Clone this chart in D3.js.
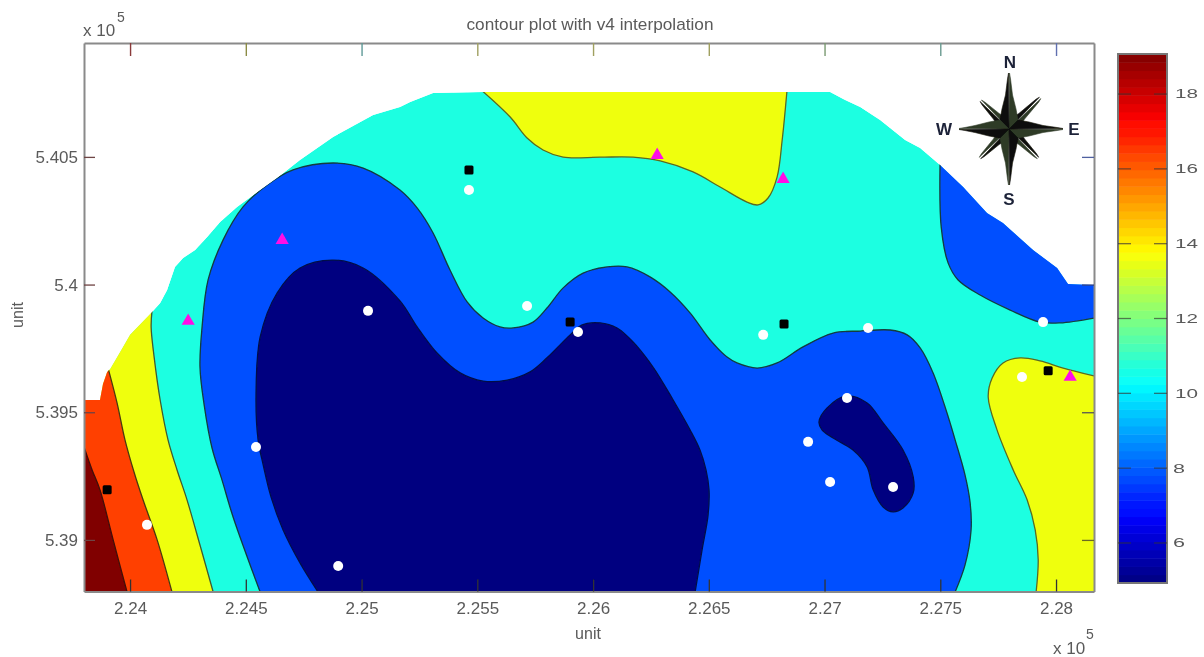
<!DOCTYPE html>
<html><head><meta charset="utf-8">
<script src="https://cdn.jsdelivr.net/npm/d3@7"></script>
<style>html,body{margin:0;padding:0;background:#fff}svg{display:block}text{font-family:"Liberation Sans",Arial,sans-serif}</style>
</head><body><svg id="c" width="1204" height="657"></svg>
<script>
// ---- data (metres) ----
const xTicks=[224000,224500,225000,225500,226000,226500,227000,227500,228000];
const xTickLabels=["2.24","2.245","2.25","2.255","2.26","2.265","2.27","2.275","2.28"];
const yTicks=[539000,539500,540000,540500];
const yTickLabels=["5.39","5.395","5.4","5.405"];
const topTickColors=["#8a3a3a","#8c8c45","#5f9a98","#a0a060","#a0a060","#a0a060","#7a9a70","#6a9a90","#6070b0"];
const rightTickColors=["#6a6a20","#555555","#334488","#5060a0"];
const barTicks=[6,8,10,12,14,16,18];
const barRange=[4.93,19.07];
const bandValues={navy:4.93,blue:7.8,cyan:10.65,yellow:13.55,orange:16.42,maroon:19.07};
const site=[[223801,538798],[223801,539548],[223870,539548],[223883,539611],[223901,539658],[223914,539669],[223957,539736],[224000,539803],[224095,539893],[224130,539928],[224160,539979],[224194,540069],[224229,540104],[224281,540135],[224333,540186],[224389,540245],[224462,540304],[224549,540362],[224635,540417],[224734,540488],[224877,540578],[225050,540664],[225166,540695],[225210,540715],[225309,540750],[225525,540754],[226838,540754],[227024,540754],[227089,540723],[227154,540695],[227240,540644],[227348,540566],[227413,540535],[227499,540468],[227599,540382],[227702,540280],[227771,540241],[227901,540135],[228005,540065],[228052,540002],[228164,539998],[228164,538798]];
const leftYellow=[[224095,539900],[224091,539834],[224104,539716],[224130,539548],[224164,539392],[224203,539274],[224246,539157],[224302,538980],[224359,538796]];
const leftYellowClose=[[223801,538796],[223801,539900]];
const leftOrange=[[223905,539673],[223944,539536],[223978,539392],[224017,539266],[224056,539157],[224117,539000],[224181,538796]];
const leftOrangeClose=[[223801,538796],[223801,539673]];
const leftMaroon=[[223801,539364],[223836,539274],[223870,539196],[223927,539000],[223987,538796]];
const leftMaroonClose=[[223801,538796]];
const bigBlue=[[224562,538796],[224445,539090],[224397,539235],[224354,539360],[224320,539529],[224302,539677],[224311,539834],[224337,540018],[224402,540175],[224488,540304],[224592,540390],[224704,540449],[224877,540476],[225007,540456],[225166,540370],[225240,540300],[225309,540202],[225382,540057],[225456,539932],[225525,539869],[225598,539834],[225655,539830],[225741,539853],[225801,539908],[225871,539987],[225957,540045],[226061,540069],[226147,540069],[226246,540030],[226333,539971],[226419,539889],[226506,539783],[226579,539716],[226622,539693],[226709,539673],[226795,539693],[226907,539756],[227037,539810],[227154,539818],[227283,539822],[227357,539803],[227413,539752],[227469,539654],[227529,539497],[227564,539392],[227607,539254],[227629,539145],[227633,539039],[227607,538902],[227564,538796]];
const bigNavy=[[224812,538796],[224734,538910],[224661,539039],[224609,539168],[224575,539294],[224553,539392],[224544,539560],[224562,539795],[224635,539967],[224734,540065],[224877,540096],[225007,540065],[225166,539936],[225240,539834],[225326,539732],[225426,539654],[225525,539622],[225629,539626],[225728,539658],[225801,539713],[225901,539803],[225953,539842],[226030,539850],[226104,539830],[226173,539775],[226259,539677],[226346,539548],[226419,539431],[226462,539352],[226488,539274],[226501,539196],[226497,539098],[226471,538961],[226441,538796]];
const smallNavy=[[227097,539564],[227184,539536],[227253,539458],[227339,539352],[227383,539247],[227383,539184],[227339,539125],[227296,539110],[227253,539129],[227210,539196],[227184,539286],[227123,539352],[227037,539399],[226989,539431],[226976,539462],[227011,539517]];
const topYellow=[[225512,540766],[225642,540656],[225715,540574],[225784,540527],[225871,540499],[226030,540499],[226173,540499],[226290,540484],[226432,540441],[226549,540382],[226665,540323],[226713,540312],[226756,540339],[226795,540421],[226817,540566],[226838,540762]];
const rightBlue=[[227499,540476],[227504,540225],[227534,540084],[227577,540018],[227672,539959],[227802,539900],[227931,539853],[228018,539850],[228164,539869]];
const rightBlueClose=[[228164,540476]];
const rightYellow=[[228164,539642],[228031,539673],[227931,539701],[227845,539713],[227771,539693],[227724,539634],[227707,539560],[227745,539431],[227815,539274],[227875,539157],[227910,539039],[227923,538922],[227914,538796]];
const rightYellowClose=[[228164,538796]];
const whitePoints=[[225028,539897],[225464,540370],[225715,539916],[225935,539814],[226735,539803],[227188,539830],[227097,539556],[226929,539384],[227024,539227],[227296,539207],[227853,539638],[227944,539853],[224544,539364],[224073,539059],[224899,538898]];
const blackPoints=[[225464,540449],[225901,539853],[226825,539846],[227966,539662],[223901,539196]];
const magentaPoints=[[224251,539861],[224657,540178],[226277,540511],[226821,540417],[228061,539642]];

// ---- scales ----
const W={l:84,r:1094,t:43,b:591.5};
const x=d3.scaleLinear().domain([223801,228164]).range([W.l,W.r]);
const y=d3.scaleLinear().domain([538798,540946]).range([W.b,W.t]);
const cb=d3.scaleLinear().domain(barRange).range([583,54]);
function jet(v){
  const t=(v-barRange[0])/(barRange[1]-barRange[0]);
  const c=u=>Math.round(255*Math.max(0,Math.min(1,u)));
  const r=Math.min(4*t-1.5,-4*t+4.5),g=Math.min(4*t-0.5,-4*t+3.5),b=Math.min(4*t+0.5,-4*t+2.5);
  return `rgb(${c(r)},${c(g)},${c(b)})`;
}
const svg=d3.select("#c");
const defs=svg.append("defs");
defs.append("filter").attr("id","soft").attr("filterUnits","userSpaceOnUse").attr("x",0).attr("y",0).attr("width",1204).attr("height",657)
  .append("feGaussianBlur").attr("stdDeviation",0.7);
const line=d3.line().x(d=>x(d[0])).y(d=>y(d[1]));
defs.append("clipPath").attr("id","siteClip").append("path").attr("d",line(site)+"Z");
const root=svg.append("g").attr("filter","url(#soft)");

// ---- contour bands ----
const smooth=d3.line().x(d=>x(d[0])).y(d=>y(d[1])).curve(d3.curveCatmullRom.alpha(0.5));
const smoothClosed=d3.line().x(d=>x(d[0])).y(d=>y(d[1])).curve(d3.curveCatmullRomClosed.alpha(0.5));
const bands=root.append("g").attr("clip-path","url(#siteClip)");
bands.append("path").attr("d",line(site)+"Z").attr("fill",jet(bandValues.cyan));
const contourColor="#123c3c";
function band(pts,extra,val,lc){
  const d=smooth(pts)+(extra||[]).map(p=>`L${x(p[0])},${y(p[1])}`).join("")+"Z";
  bands.append("path").attr("d",d).attr("fill",jet(val));
  bands.append("path").attr("d",smooth(pts)).attr("fill","none").attr("stroke",lc||contourColor).attr("stroke-width",1.3);
}
band(bigBlue,[],bandValues.blue);
band(bigNavy,[],bandValues.navy,"#06104a");
bands.append("path").attr("d",smoothClosed(smallNavy)).attr("fill",jet(bandValues.navy)).attr("stroke","#06104a").attr("stroke-width",1.3);
band(rightBlue,rightBlueClose,bandValues.blue);
band(topYellow,[],bandValues.yellow,"#5a6a20");
band(rightYellow,rightYellowClose,bandValues.yellow,"#5a6a20");
band(leftYellow,leftYellowClose,bandValues.yellow,"#3f5a30");
band(leftOrange,leftOrangeClose,bandValues.orange,"#4a3a10");
band(leftMaroon,leftMaroonClose,bandValues.maroon,"#401008");

// ---- samples ----
root.append("g").selectAll("rect").data(blackPoints).join("rect")
  .attr("x",d=>x(d[0])-4.5).attr("y",d=>y(d[1])-4.5).attr("width",9).attr("height",9).attr("rx",1.5).attr("fill","#000");
root.append("g").selectAll("circle").data(whitePoints).join("circle")
  .attr("cx",d=>x(d[0])).attr("cy",d=>y(d[1])).attr("r",5).attr("fill","#fff");
root.append("g").selectAll("path").data(magentaPoints).join("path")
  .attr("d",d3.symbol(d3.symbolTriangle,75))
  .attr("transform",d=>`translate(${x(d[0])},${y(d[1])+1})`).attr("fill","#ff0fe6");

// ---- axes ----
const textFill="#5a5a5a";
const fs=17;
const xb=root.append("g").attr("transform",`translate(0,${W.b})`)
  .call(d3.axisBottom(x).tickValues(xTicks).tickSize(-12).tickSizeOuter(0).tickFormat((d,i)=>xTickLabels[i]));
const yl=root.append("g").attr("transform",`translate(${W.l},0)`)
  .call(d3.axisLeft(y).tickValues(yTicks).tickSize(-11).tickSizeOuter(0).tickFormat((d,i)=>yTickLabels[i]));
const xt=root.append("g").attr("transform",`translate(0,${W.t})`)
  .call(d3.axisTop(x).tickValues(xTicks).tickSize(-13).tickSizeOuter(0).tickFormat(""));
const yr=root.append("g").attr("transform",`translate(${W.r},0)`)
  .call(d3.axisRight(y).tickValues(yTicks).tickSize(-12).tickSizeOuter(0).tickFormat(""));
[xb,yl,xt,yr].forEach(a=>{a.select(".domain").attr("stroke","#8a8a8a").attr("stroke-width",2);});
xb.selectAll(".tick line").attr("stroke","#333").attr("stroke-width",1.3);
yl.selectAll(".tick line").attr("stroke","#6e4444").attr("stroke-width",1.3);
xt.selectAll(".tick line").attr("stroke",(d,i)=>topTickColors[i]).attr("stroke-width",1.4);
yr.selectAll(".tick line").attr("stroke",(d,i)=>rightTickColors[i]).attr("stroke-width",1.3);
xb.selectAll(".tick text").attr("y",17.5).attr("dy","0.32em").attr("font-size",fs).attr("fill",textFill).attr("font-family","Liberation Sans");
yl.selectAll(".tick text").attr("x",-6).attr("dy","0.32em").attr("font-size",fs).attr("fill",textFill).attr("font-family","Liberation Sans");

const lab=(t,px,py,size,anchor)=>root.append("text").attr("x",px).attr("y",py).attr("font-size",size).attr("fill",textFill).attr("text-anchor",anchor||"start").text(t);
lab("contour plot with v4 interpolation",590,30,17,"middle").attr("textLength",247).attr("lengthAdjust","spacingAndGlyphs");
lab("unit",588,639,16,"middle");
root.append("text").attr("transform","translate(23,315) rotate(-90)").attr("font-size",16).attr("fill",textFill).attr("text-anchor","middle").text("unit");
lab("x 10",83,36,17);
lab("5",117,22,14);
lab("x 10",1053,654,17);
lab("5",1086,639,14);

// ---- colour bar ----
const steps=d3.range(64);
const stepH=(cb.range()[0]-cb.range()[1])/64;
const bar=root.append("g");
bar.selectAll("rect").data(steps).join("rect")
  .attr("x",1118).attr("width",49)
  .attr("y",i=>cb(barRange[0]+(i+1)/64*(barRange[1]-barRange[0])))
  .attr("height",stepH+0.5)
  .attr("fill",i=>jet(barRange[0]+(i+0.5)/64*(barRange[1]-barRange[0])));
bar.append("rect").attr("x",1118).attr("y",54).attr("width",49).attr("height",529).attr("fill","none").attr("stroke","#777").attr("stroke-width",2);
const bt=bar.selectAll("g.t").data(barTicks).join("g").attr("class","t").attr("transform",d=>`translate(0,${cb(d)})`);
bt.append("line").attr("x1",1118).attr("x2",1131).attr("stroke","#333").attr("stroke-opacity",.65).attr("stroke-width",1.3);
bt.append("line").attr("x1",1154).attr("x2",1167).attr("stroke","#333").attr("stroke-opacity",.65).attr("stroke-width",1.3);
bt.append("text").attr("x",d=>d<10?1173:1175).attr("dy","0.35em").attr("font-size",12.5).attr("fill",textFill)
  .attr("textLength",d=>d<10?12:23).attr("lengthAdjust","spacingAndGlyphs").text(d=>d);

// ---- compass ----
const compass=root.append("g").attr("transform","translate(1009,129)");
const arm=(ang,prof)=>{
  const a=ang*Math.PI/180;
  const pt=(d,o)=>[Math.sin(a)*d+Math.cos(a)*o,-Math.cos(a)*d+Math.sin(a)*o];
  [[1,"#2f3a28"],[-1,"#0b0c08"]].forEach(([s,c])=>{
    compass.append("path").attr("d",d3.line()([[0,0],...prof.map(p=>pt(p[0],s*p[1]))])+"Z").attr("fill",c).attr("stroke",c).attr("stroke-width",.6);
  });
};
const diag=len=>[[8,6],[18,4],[len-4,2],[len,1]];
const card=len=>[[9,9],[20,7],[34,3.5],[len-6,1.5],[len,.5]];
[[45,44],[135,41],[225,41],[315,40]].forEach(([a,l])=>arm(a,diag(l)));
[[0,56],[90,54],[180,56],[270,50]].forEach(([a,l])=>arm(a,card(l)));
[["N",1010,62],["W",944,129],["E",1074,129],["S",1009,199]].forEach(([t,px,py])=>{
  root.append("text").attr("x",px).attr("y",py).attr("dy","0.36em").attr("text-anchor","middle").attr("font-size",17).attr("font-weight","bold").attr("fill","#1c2238").text(t);
});
</script></body></html>
